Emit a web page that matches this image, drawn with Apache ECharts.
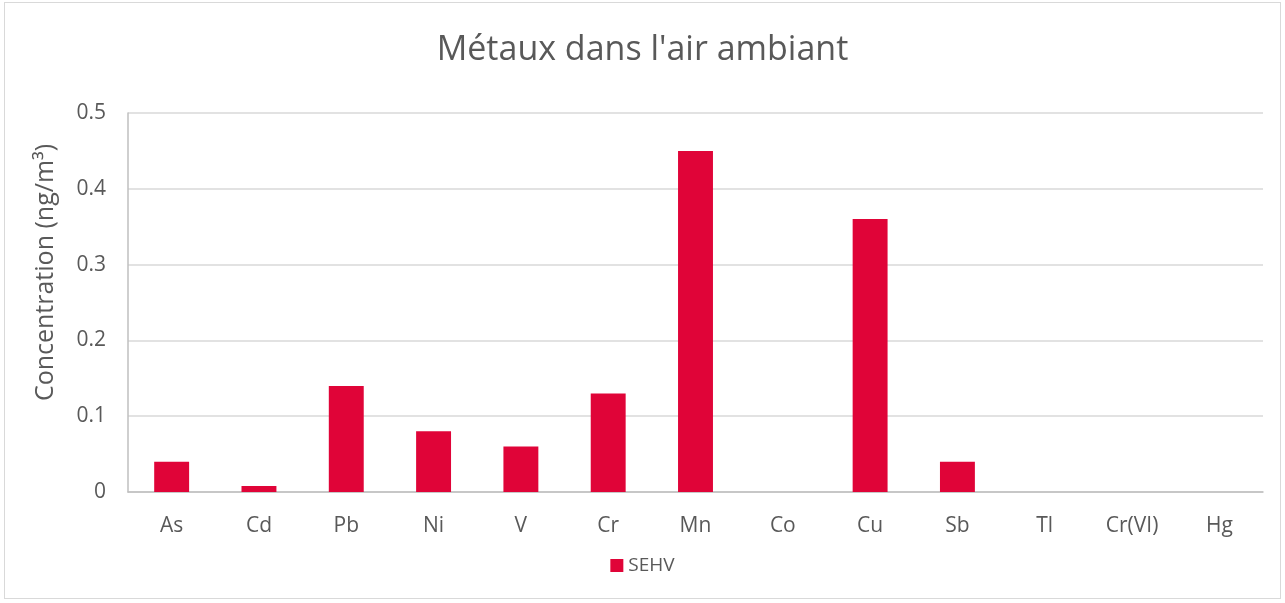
<!DOCTYPE html>
<html>
<head>
<meta charset="utf-8">
<script src="https://cdn.jsdelivr.net/npm/echarts@6/dist/echarts.min.js"></script>
<style>
  html, body { margin: 0; padding: 0; background: #fff; }
  #chart { position: absolute; left: 4px; top: 2px; width: 1277px; height: 597px; border: 1px solid #d9d9d9; box-sizing: border-box; }
</style>
</head>
<body>
<div id="chart"></div>
<script>
  var categories = ['As', 'Cd', 'Pb', 'Ni', 'V', 'Cr', 'Mn', 'Co', 'Cu', 'Sb', 'Tl', 'Cr(VI)', 'Hg'];
  var sehv = [0.04, 0.008, 0.14, 0.08, 0.06, 0.13, 0.45, 0, 0.36, 0.04, 0, 0, 0];

  var font = '"Open Sans", "Noto Sans", sans-serif';
  var grey = '#595959';

  var chart = echarts.init(document.getElementById('chart'));
  var option = {
    animation: false,
    title: {
      text: "Métaux dans l'air ambiant",
      left: 'center',
      top: 25,
      textStyle: { fontFamily: font, fontSize: 34, fontWeight: 'normal', color: grey }
    },
    legend: {
      data: ['SEHV'],
      bottom: 18,
      left: 'center',
      itemWidth: 13,
      itemHeight: 13,
      icon: 'rect',
      textStyle: { fontFamily: font, fontSize: 19, color: grey }
    },
    grid: { left: 123, right: 17, top: 110, bottom: 106 },
    xAxis: {
      type: 'category',
      data: categories,
      axisLine: { lineStyle: { color: '#bfbfbf', width: 1.5 } },
      axisTick: { show: false },
      axisLabel: { fontFamily: font, fontSize: 21, color: grey, margin: 24 }
    },
    yAxis: {
      type: 'value',
      min: 0,
      max: 0.5,
      interval: 0.1,
      name: 'Concentration (ng/m³)',
      nameLocation: 'middle',
      nameGap: 70,
      nameTextStyle: { fontFamily: font, fontSize: 25, color: grey, padding: [0, 0, 0, 60] },
      axisLine: { show: true, lineStyle: { color: '#bfbfbf', width: 1.5 } },
      axisTick: { show: false },
      axisLabel: { fontFamily: font, fontSize: 21, color: grey, margin: 22 },
      splitLine: { lineStyle: { color: '#d9d9d9', width: 1.5 } }
    },
    series: [{
      name: 'SEHV',
      type: 'bar',
      data: sehv,
      barWidth: '40%',
      itemStyle: { color: '#E00438' }
    }]
  };
  chart.setOption(option);
</script>
</body>
</html>
